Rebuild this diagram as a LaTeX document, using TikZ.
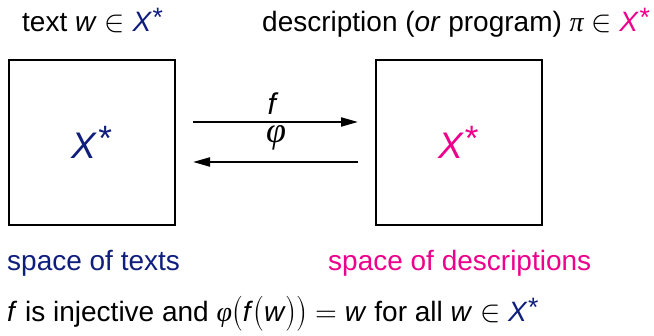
\documentclass[tikz,border=0pt]{standalone}
\usepackage{fontspec}
\setmainfont{Liberation Sans}
\newfontfamily\lmm{Latin Modern Math}
\newfontfamily\lmmbig[Scale=1.08]{Latin Modern Math}
\newfontfamily\grk{Liberation Serif}
\usetikzlibrary{arrows.meta}
\definecolor{navy}{RGB}{15,30,125}
\definecolor{hotpink}{RGB}{236,0,140}
\newcommand\Xst{\textit{X}\kern0.02em\raisebox{0.2em}{\scalebox{0.95}{*}}}
\newcommand\elem{{\lmmbig ∈}}
\newcommand\pisym{{\grk\itshape π}}
\newcommand\phisym{{\grk\itshape φ}}
\newcommand\bop{\raisebox{-0.02em}{\scalebox{1}[1.25]{\lmm (}}}
\newcommand\bcl{\raisebox{-0.02em}{\scalebox{1}[1.25]{\lmm )}}}
\tikzset{
  txt/.style={anchor=base west,inner sep=0pt,font=\fontsize{28}{32}\selectfont},
  spacebox/.style={draw,line width=2pt,minimum width=166pt,minimum height=165pt,inner sep=0pt,font=\fontsize{37}{40}\selectfont},
  maparrow/.style={line width=2pt,-{Triangle[length=17pt,width=9pt]}},
  lbl/.style={inner sep=0pt,font=\fontsize{30}{34}\selectfont}
}
\begin{document}
\begin{tikzpicture}[x=1pt,y=-1pt]
\useasboundingbox (0,0) rectangle (654,336);
\node[txt] (t1) at (22,32) {text \textit{w} \elem{} \textcolor{navy}{\Xst}};
\node[txt] (t2) at (262,32) {description (\textit{or} program) \pisym{} \elem{} \textcolor{hotpink}{\Xst}};
\node[spacebox,text=navy] (L) at (92,142.5) {\Xst};
\node[spacebox,text=hotpink] (R) at (458.5,142.5) {\Xst};
\coordinate (a1) at (193,122);
\coordinate (a2) at (358,122);
\coordinate (b1) at (358,162);
\coordinate (b2) at (193,162);
\draw[maparrow] (a1) -- (a2);
\draw[maparrow] (b1) -- (b2);
\node[lbl,anchor=base] (fl) at (273,115) {\textit{f}};
\node[lbl,anchor=base,font=\fontsize{36}{38}\selectfont] (pl) at (276,143) {\phisym};
\node[txt,text=navy] (s1) at (7,271) {space of texts};
\node[txt,text=hotpink] (s2) at (328,271) {space of descriptions};
\node[txt] (eq) at (7,322) {\textit{f} is injective and \phisym\bop\textit{f}\bop\textit{w}\bcl\bcl{} {\lmm =} \textit{w} for all \textit{w} \elem{} \textcolor{navy}{\Xst}};
\end{tikzpicture}
\end{document}
